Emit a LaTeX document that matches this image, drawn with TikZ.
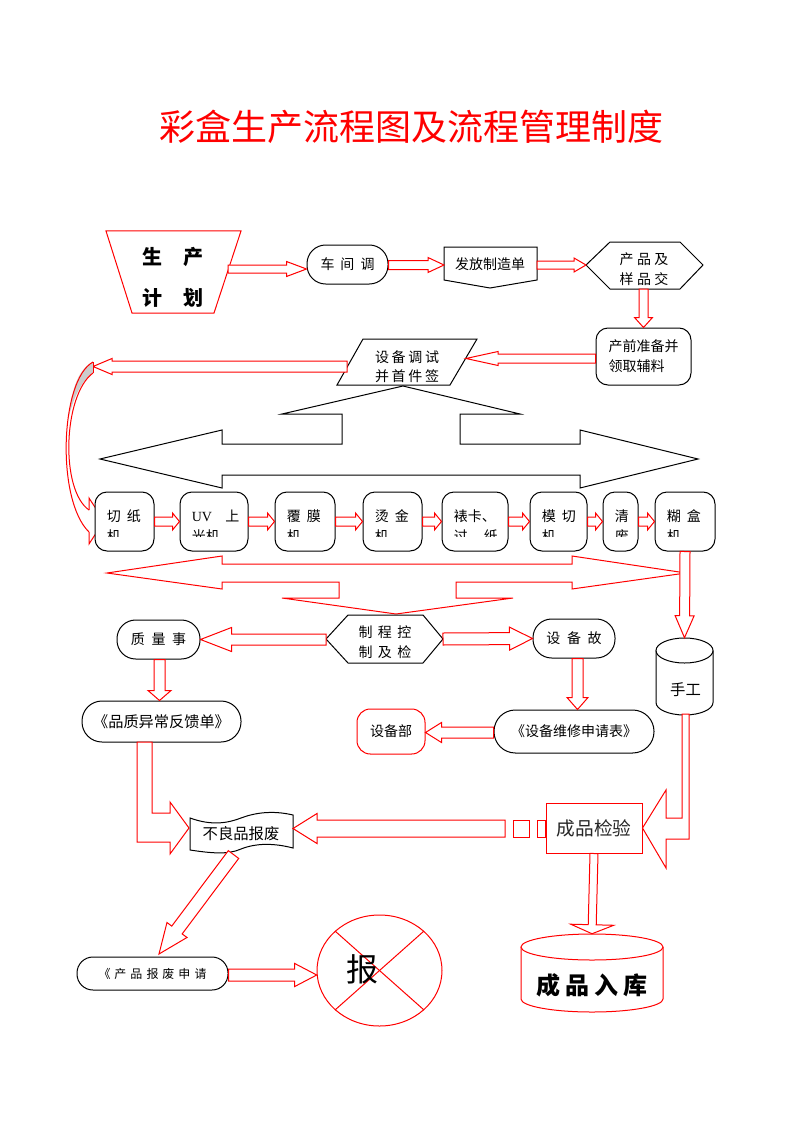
\documentclass[tikz,border=0pt]{standalone}
\usepackage{fontspec}
\setmainfont{Noto Sans CJK SC}
\newfontfamily\lserif{Liberation Serif}
\usetikzlibrary{calc}
\newcommand\gapx[1]{\hspace{#1pt}}
\tikzset{
  rl/.style={draw=red, line width=0.75pt, fill=white},
  bl/.style={draw=black, line width=0.75pt, fill=white},
  lbl/.style={inner sep=0pt, font=\fontsize{10.5}{15}\selectfont},
  pbox/.style={bl, rounded corners=9pt, minimum height=59*0.75pt, inner sep=0pt},
  ptext/.style={anchor=north west, align=left, inner sep=0pt, font=\fontsize{10.5}{15}\selectfont},
}
% block arrow: start, end, shaft half width, head half width, head length (px)
\newcommand\barrow[5]{%
  \path ($#2!#5*0.75pt!#1$) coordinate (bh);
  \draw[rl] ($#1!#3*0.75pt!90:#2$) -- ($(bh)!#3*0.75pt!-90:#1$) -- ($(bh)!#4*0.75pt!-90:#1$) -- #2
     -- ($(bh)!#4*0.75pt!90:#1$) -- ($(bh)!#3*0.75pt!90:#1$) -- ($#1!#3*0.75pt!-90:#2$) -- cycle;}
% process box: name, cx, width, line1, line2
\newcommand\procbox[5]{%
  \node[pbox, minimum width=#3*0.75pt] (#1) at (#2,521.5) {};
  \begin{scope}
    \clip ($(#1.north west)+(1,1)$) rectangle ($(#1.south east)+(-1,-15.5)$);
    \node[ptext] (#1t) at ($(#1.north west)+(12,18)$) {#4\\#5};
  \end{scope}}
\begin{document}
\begin{tikzpicture}[x=0.75pt, y=-0.75pt]
\fill[white] (0,0) rectangle (794,1123);
\useasboundingbox (0,0) rectangle (794,1123);

% title
\node[text=red, inner sep=0pt, font=\fontsize{27}{30}\selectfont] (title) at (411,127) {彩盒生产流程图及流程管理制度};

% top row
\draw[rl] (106,231) -- (241,231) -- (214,313) -- (132,313) -- cycle;
\node[inner sep=0pt, align=center, font=\bfseries\fontsize{15}{30.75}\selectfont] (trap) at (173,277.5) {生\gapx{15.75}产\\计\gapx{15.75}划};

\node[bl, rounded corners=14pt, minimum width=81*0.75pt, minimum height=39*0.75pt, inner sep=0pt, font=\fontsize{10.5}{15}\selectfont] (cjt) at (347.5,264.5) {车\gapx{4.5}间\gapx{4.5}调};

\draw[bl] (444,247) -- (537,247) -- (537,280) -- (490,288) -- (444,280) -- cycle;
\node[lbl] (fzd) at (490,264) {发放制造单};

\draw[bl] (586,265) -- (610,242) -- (680,242) -- (703,265) -- (680,289) -- (610,289) -- cycle;
\node[lbl, align=center] (hex1) at (644,269) {产\gapx{2.6}品\gapx{2.6}及\\样\gapx{2.6}品\gapx{2.6}交};

\node[bl, rounded corners=9pt, minimum width=95*0.75pt, minimum height=57*0.75pt, inner sep=0pt, align=left, font=\fontsize{10.5}{15}\selectfont] (cq) at (643.5,356.5) {产前准备并\\领取辅料};

\draw[bl] (363,339) -- (477,339) -- (450,385) -- (337,385) -- cycle;
\node[lbl, align=center, font=\fontsize{10.5}{14.25}\selectfont] (sb) at (407,366.5) {设\gapx{2}备\gapx{2}调\gapx{2}试\\并\gapx{2}首\gapx{2}件\gapx{2}签};

\coordinate (a1s) at (228,269);
\coordinate (a1e) at (cjt.west |- a1s);
\barrow{(a1s)}{(a1e)}{4}{7.5}{20}
\coordinate (a2s) at ($(cjt.east)+(0,0.5)$);
\coordinate (a2e) at (444,265);
\barrow{(a2s)}{(a2e)}{4.5}{7.5}{16}
\coordinate (a3s) at (537,265);
\coordinate (a3e) at (586,265);
\barrow{(a3s)}{(a3e)}{4}{7}{12}
\coordinate (a4s) at (643.5,289);
\barrow{(a4s)}{(cq.north)}{4.5}{9}{10}
\coordinate (a5s) at ($(cq.west)+(0,2)$);
\coordinate (a5e) at (466,358.5);
\barrow{(a5s)}{(a5e)}{4.5}{7}{32}
\coordinate (a6s) at (347,366.5);
\coordinate (a6e) at (93,366.5);
\barrow{(a6s)}{(a6e)}{5.5}{8}{19}

% big black arrow
\draw[bl] (403,386) -- (520,414) -- (460,414) -- (460,444) -- (580,444) -- (580,430) -- (698,459)
  -- (580,488) -- (580,475) -- (222,475) -- (222,488) -- (100,459) -- (222,430) -- (222,444)
  -- (342,444) -- (342,414) -- (282,414) -- cycle;

% curved arrow on the left
\fill[gray!40] (93,362) .. controls (80,368) and (72,385) .. (68,420) .. controls (73,398) and (82,380) .. (93,373) -- cycle;
\draw[red, line width=0.75pt] (93,362) .. controls (60,380) and (56,500) .. (89,532);
\draw[red, line width=0.75pt] (93,373) .. controls (63,395) and (60,490) .. (89,510);
\draw[red, line width=0.75pt] (89,510) -- (89,498) -- (104,521) -- (89,544) -- (89,532);
\draw[red, line width=0.75pt] (93,362) -- (93,373);

% process row
\procbox{b1}{124.5}{59}{切\gapx{4.5}纸}{机}
\procbox{b2}{214}{68}{{\lserif UV}\gapx{10}上}{光机}
\procbox{b3}{305}{60}{覆\gapx{4.5}膜}{机}
\procbox{b4}{392.5}{59}{烫\gapx{4.5}金}{机}
\procbox{b5}{475}{66}{裱卡、}{过\gapx{12}纸}
\procbox{b6}{558.5}{57}{模\gapx{4.5}切}{机}
\procbox{b7}{620.5}{35}{清}{废}
\procbox{b8}{685}{60}{糊\gapx{4.5}盒}{机}
\barrow{(b1.east)}{(b2.west)}{4.5}{8.5}{7}
\barrow{(b2.east)}{(b3.west)}{4.5}{8.5}{7}
\barrow{(b3.east)}{(b4.west)}{4.5}{8.5}{7}
\barrow{(b4.east)}{(b5.west)}{4.5}{8.5}{7}
\barrow{(b5.east)}{(b6.west)}{4.5}{8.5}{7}
\barrow{(b6.east)}{(b7.west)}{4.5}{8.5}{7}
\barrow{(b7.east)}{(b8.west)}{4.5}{8.5}{7}

% red left-right-down arrow
\draw[rl] (107,573) -- (222,556) -- (222,564) -- (572,564) -- (572,556) -- (686,573) -- (572,589)
  -- (572,582) -- (456,582) -- (456,598) -- (513,598) -- (396,614) -- (282,598) -- (339,598)
  -- (339,582) -- (222,582) -- (222,589) -- cycle;

% hand work cylinder
\node[inner sep=0pt, minimum width=57*0.75pt, minimum height=77*0.75pt] (sg) at (684.5,676.5) {};
\draw[bl] (656,650.5) -- (656,702.5) arc[start angle=180, end angle=0, x radius=28.5, y radius=12.5] -- (713,650.5);
\draw[bl] (684.5,650.5) ellipse [x radius=28.5, y radius=12.5];
\node[lbl, font=\fontsize{11.5}{13}\selectfont] (sgt) at (685.5,690) {手工};
\barrow{(b8.south)}{(sg.north)}{5}{9.5}{22}

% middle
\draw[bl] (326,639) -- (348,615) -- (423,615) -- (443,639) -- (423,663) -- (348,663) -- cycle;
\node[lbl, align=center] (zhi) at (385,642.5) {制\gapx{4}程\gapx{4}控\\制\gapx{4}及\gapx{4}检};

\node[bl, rounded corners=14pt, minimum width=83*0.75pt, minimum height=39*0.75pt, inner sep=0pt, font=\fontsize{10.5}{15}\selectfont] (zl) at (158.5,639.5) {质\gapx{5}量\gapx{5}事};
\node[bl, rounded corners=15pt, minimum width=159*0.75pt, minimum height=41*0.75pt, inner sep=0pt, font=\fontsize{11.4}{14}\selectfont] (pz) at (161.5,721.5) {《品质异常反馈单》};
\node[bl, rounded corners=14pt, minimum width=82*0.75pt, minimum height=39*0.75pt, inner sep=0pt, font=\fontsize{10.5}{15}\selectfont] (sbg) at (574,638.5) {设\gapx{5}备\gapx{5}故};
\node[bl, rounded corners=16pt, minimum width=160*0.75pt, minimum height=43*0.75pt, inner sep=0pt, font=\fontsize{10.5}{15}\selectfont] (wx) at (574,731.5) {《设备维修申请表》};
\node[rl, rounded corners=10pt, minimum width=68*0.75pt, minimum height=45*0.75pt, inner sep=0pt, font=\fontsize{10.5}{15}\selectfont] (sbb) at (391,731.5) {设备部};

\coordinate (m1s) at (326,639.5);
\barrow{(m1s)}{(zl.east)}{5.5}{12}{31}
\coordinate (m2s) at ($(zl.south)+(1,0)$);
\coordinate (m2e) at (m2s |- pz.north);
\barrow{(m2s)}{(m2e)}{5.5}{11.5}{10}
\coordinate (m3s) at (443,639);
\barrow{(m3s)}{(sbg.west)}{6}{11.5}{23}
\coordinate (m4s) at ($(sbg.south)+(3.5,0)$);
\coordinate (m4e) at (m4s |- wx.north);
\barrow{(m4s)}{(m4e)}{5.5}{10.5}{12}
\coordinate (m5s) at ($(wx.west)+(0,1)$);
\coordinate (m5e) at (sbb.east |- m5s);
\barrow{(m5s)}{(m5e)}{5.5}{10}{16}

% finished product inspection
\node[rl, minimum width=96*0.75pt, minimum height=50*0.75pt, inner sep=0pt, text=black!85, font=\fontsize{14}{16}\selectfont] (cpj) at (594,828) {成品检验};

% bent arrow hand work -> inspection
\draw[rl] (682,714) -- (682,818) -- (666,818) -- (666,790) -- (cpj.east) -- (666,868) -- (666,839) -- (689,839) -- (689,714) -- cycle;

% reject scrap tape shape
\draw[bl] (190,818) .. controls (212,826) and (228,823) .. (241,818) .. controls (254,813) and (272,810) .. (293,815)
  -- (293,848) .. controls (274,843) and (256,843) .. (241,849) .. controls (228,855) and (210,853) .. (190,850) -- cycle;
\node[lbl, font=\fontsize{11.5}{13}\selectfont] (blp) at (241,834) {不良品报废};

% striped arrow inspection -> scrap
\coordinate (s1s) at (505,828.5);
\coordinate (s1e) at (293,828.5);
\barrow{(s1s)}{(s1e)}{8.5}{15}{24}
\draw[rl] (513,820) rectangle (529,837);
\draw[rl] (537,820) rectangle (cpj.west |- 0,837);

% bent arrow quality feedback -> scrap
\draw[rl] (137,742) -- (137,842) -- (170,842) -- (170,854) -- (189,828) -- (170,802) -- (170,813) -- (152,813) -- (152,742) -- cycle;

% scrap application
\node[bl, rounded corners=12pt, minimum width=151*0.75pt, minimum height=33*0.75pt, inner sep=0pt, font=\fontsize{9}{11}\selectfont] (bfsq) at (152.5,973.5) {《\gapx{3}产\gapx{3}品\gapx{3}报\gapx{3}废\gapx{3}申\gapx{3}请};
\coordinate (d1) at (233.5,854.5);
\coordinate (d2) at (159,954);
\barrow{(d1)}{(d2)}{6.5}{12.5}{30}

% scrap circle
\node[inner sep=0pt, minimum width=125*0.75pt, minimum height=111*0.75pt] (bao) at (379.5,970.5) {};
\draw[rl] (379.5,970.5) ellipse [x radius=62.5, y radius=55.5];
\draw[red, line width=0.75pt] (335,931) -- (424,1010);
\draw[red, line width=0.75pt] (424,931) -- (335,1010);
\node[inner sep=0pt, font=\fontsize{24}{26}\selectfont] (baot) at (362,969) {报};
\coordinate (e1s) at ($(bfsq.east)+(0,1.5)$);
\coordinate (e1e) at (bao.west |- e1s);
\barrow{(e1s)}{(e1e)}{6}{11.5}{22}

% warehouse cylinder
\node[inner sep=0pt, minimum width=142*0.75pt, minimum height=78*0.75pt] (cprk0) at (592,973) {};
\draw[rl] (521,947) -- (521,999) arc[start angle=180, end angle=0, x radius=71, y radius=13] -- (663,947);
\draw[rl] (592,947) ellipse [x radius=71, y radius=13];
\node[inner sep=0pt, font=\bfseries\fontsize{18}{20}\selectfont] (cprk) at (592,985) {成\gapx{4}品\gapx{4}入\gapx{4}库};
\barrow{(cpj.south)}{(cprk0.north)}{4}{21.5}{9}

\end{tikzpicture}
\end{document}
